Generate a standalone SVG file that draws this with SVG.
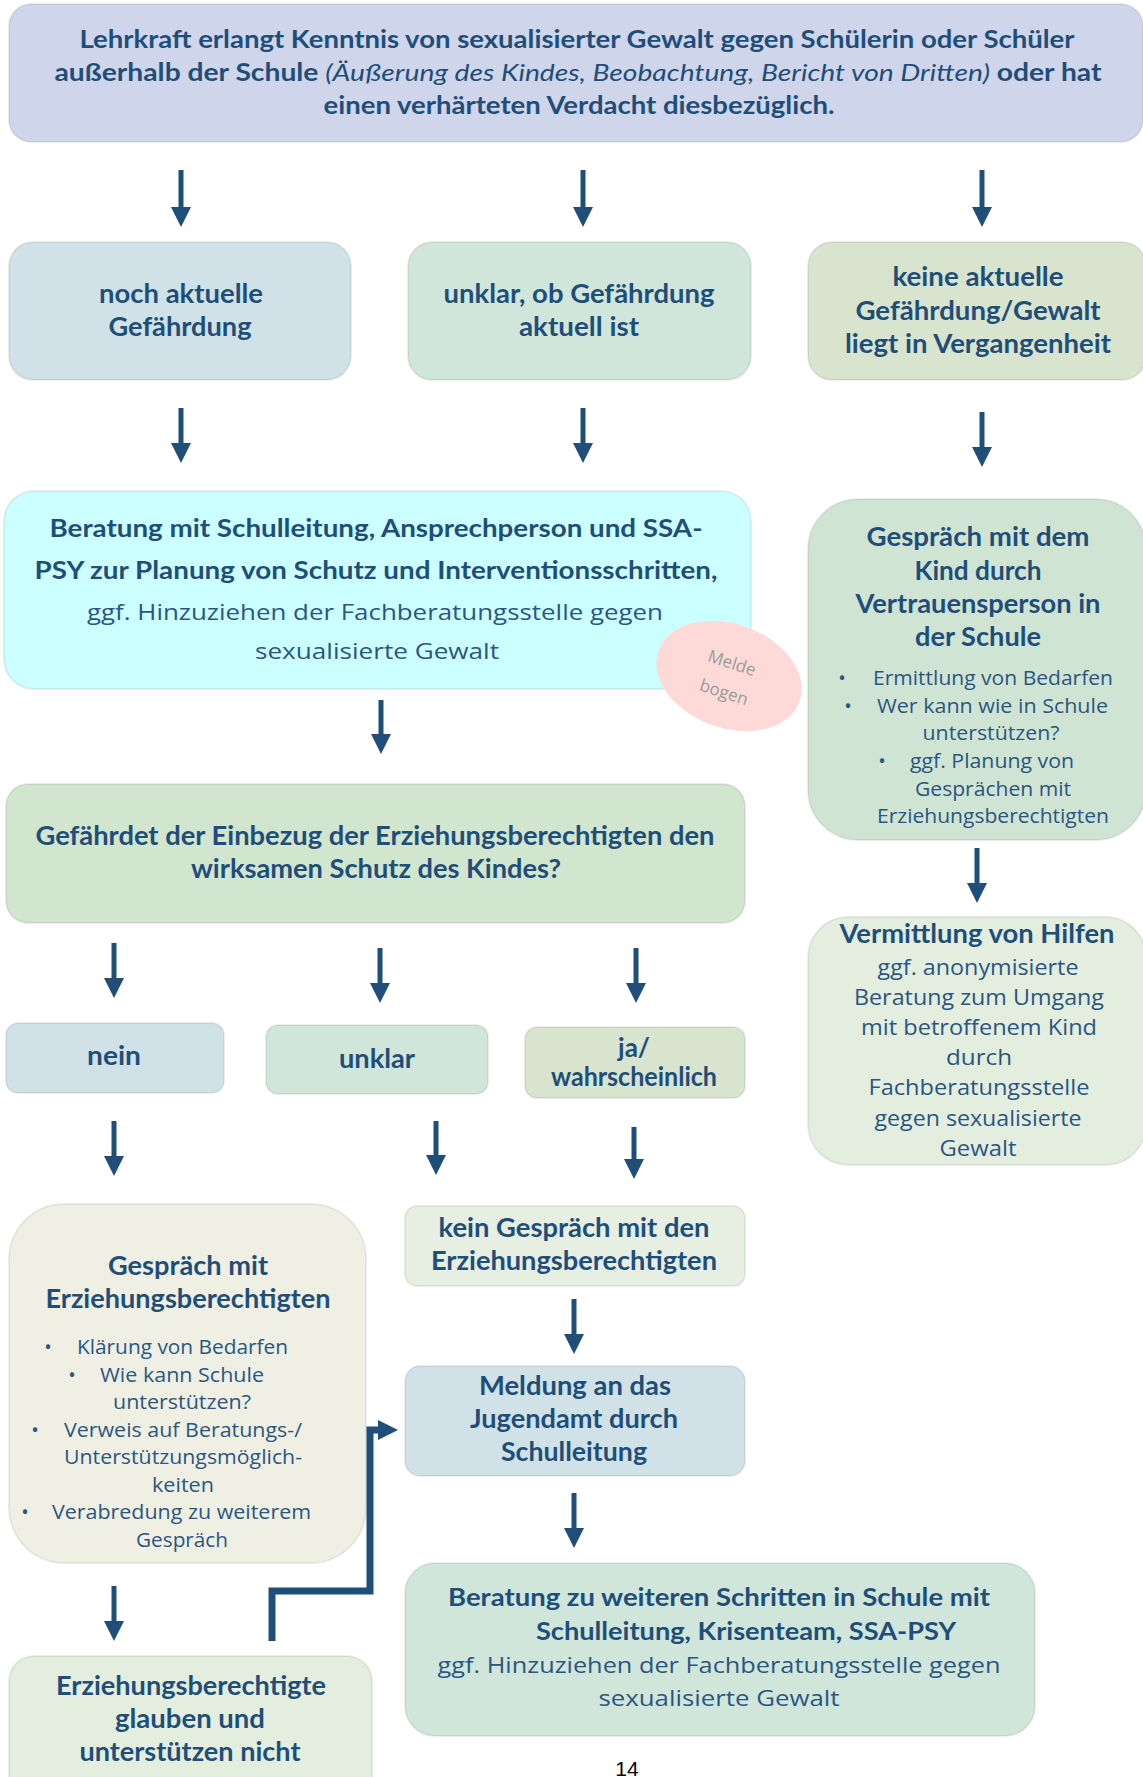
<svg xmlns="http://www.w3.org/2000/svg" width="1143" height="1777" viewBox="0 0 1143 1777">
<style>
.box{stroke:#000;stroke-opacity:0.07;stroke-width:2}
.b{font-family:Lato,"Liberation Sans",sans-serif;font-weight:700;fill:#1f4e79;text-anchor:middle}
.r{font-family:"Open Sans","Liberation Sans",sans-serif;font-weight:400;fill:#2b5681;text-anchor:middle}
.s{text-anchor:start}
.f26{font-size:26px}.f24{font-size:24px}.f22{font-size:22px}.f20{font-size:20px}
.cn{stroke:#1f4e79;stroke-width:5;fill:none}
</style>
<defs>
<marker id="ah" markerUnits="userSpaceOnUse" markerWidth="20" markerHeight="20" viewBox="0 -10 20 20" refX="0" refY="0" orient="auto"><path d="M0,-10 L20,0 L0,10 z" fill="#1f4e79"/></marker>
</defs>
<rect width="1143" height="1777" fill="#ffffff"/>

<g id="connectors">
<line class="cn" x1="181" y1="170" x2="181" y2="207" marker-end="url(#ah)"/>
<line class="cn" x1="583" y1="170" x2="583" y2="207" marker-end="url(#ah)"/>
<line class="cn" x1="982" y1="170" x2="982" y2="207" marker-end="url(#ah)"/>
<line class="cn" x1="181" y1="408" x2="181" y2="443" marker-end="url(#ah)"/>
<line class="cn" x1="583" y1="408" x2="583" y2="443" marker-end="url(#ah)"/>
<line class="cn" x1="982" y1="412" x2="982" y2="447" marker-end="url(#ah)"/>
<line class="cn" x1="381" y1="700" x2="381" y2="734" marker-end="url(#ah)"/>
<line class="cn" x1="977" y1="848" x2="977" y2="883" marker-end="url(#ah)"/>
<line class="cn" x1="114" y1="943" x2="114" y2="978" marker-end="url(#ah)"/>
<line class="cn" x1="380" y1="948" x2="380" y2="983" marker-end="url(#ah)"/>
<line class="cn" x1="636" y1="948" x2="636" y2="983" marker-end="url(#ah)"/>
<line class="cn" x1="114" y1="1121" x2="114" y2="1156" marker-end="url(#ah)"/>
<line class="cn" x1="436" y1="1121" x2="436" y2="1155" marker-end="url(#ah)"/>
<line class="cn" x1="634" y1="1127" x2="634" y2="1159" marker-end="url(#ah)"/>
<line class="cn" x1="574" y1="1299" x2="574" y2="1334" marker-end="url(#ah)"/>
<line class="cn" x1="574" y1="1493" x2="574" y2="1528" marker-end="url(#ah)"/>
<line class="cn" x1="114" y1="1586" x2="114" y2="1621" marker-end="url(#ah)"/>
<path class="cn" style="stroke-width:7" d="M272,1641 V1591 H370 V1430 H378" marker-end="url(#ah)"/>
</g>

<g id="n-top">
<rect class="box" x="9" y="4" width="1134" height="138" rx="22" fill="#cfd5ea"/>
<text class="b f24" x="577" y="48" textLength="995" lengthAdjust="spacingAndGlyphs">Lehrkraft erlangt Kenntnis von sexualisierter Gewalt gegen Schülerin  oder Schüler</text>
<text class="b f24" x="578" y="81" textLength="1047" lengthAdjust="spacingAndGlyphs">außerhalb der Schule <tspan font-style="italic" font-weight="400">(Äußerung des Kindes, Beobachtung, Bericht von Dritten)</tspan> oder hat</text>
<text class="b f24" x="579" y="114" textLength="511" lengthAdjust="spacingAndGlyphs">einen verhärteten Verdacht diesbezüglich.</text>
</g>

<g id="n-noch">
<rect class="box" x="9" y="242" width="342" height="138" rx="24" fill="#d0e2e8"/>
<text class="b f26" x="181" y="303" textLength="164" lengthAdjust="spacingAndGlyphs">noch aktuelle</text>
<text class="b f26" x="180" y="336" textLength="143" lengthAdjust="spacingAndGlyphs">Gefährdung</text>
</g>

<g id="n-unklar-ob">
<rect class="box" x="408" y="242" width="343" height="138" rx="24" fill="#d0e6da"/>
<text class="b f26" x="579" y="303" textLength="271" lengthAdjust="spacingAndGlyphs">unklar, ob Gefährdung</text>
<text class="b f26" x="579" y="336" textLength="120" lengthAdjust="spacingAndGlyphs">aktuell ist</text>
</g>

<g id="n-keine">
<rect class="box" x="808" y="242" width="338" height="138" rx="24" fill="#d8e4ce"/>
<text class="b f26" x="978" y="286" textLength="171" lengthAdjust="spacingAndGlyphs">keine aktuelle</text>
<text class="b f26" x="978" y="320" textLength="245" lengthAdjust="spacingAndGlyphs">Gefährdung/Gewalt</text>
<text class="b f26" x="978" y="353" textLength="266" lengthAdjust="spacingAndGlyphs">liegt in Vergangenheit</text>
</g>

<g id="n-beratung">
<rect class="box" x="4" y="491" width="747" height="198" rx="30" fill="#ccffff"/>
<text class="b f24" x="376" y="537" textLength="653" lengthAdjust="spacingAndGlyphs">Beratung mit Schulleitung, Ansprechperson und SSA-</text>
<text class="b f24" x="376" y="579" textLength="683" lengthAdjust="spacingAndGlyphs">PSY zur Planung von Schutz und Interventionsschritten,</text>
<text class="r f22" x="375" y="620" textLength="576" lengthAdjust="spacingAndGlyphs">ggf. Hinzuziehen der Fachberatungsstelle gegen</text>
<text class="r f22" x="377" y="659" textLength="244" lengthAdjust="spacingAndGlyphs">sexualisierte Gewalt</text>
</g>

<g id="n-meldebogen">
<ellipse cx="729" cy="676" rx="75" ry="52" transform="rotate(20 729 676)" fill="#fddad8"/>
<text class="r" style="font-size:17px;fill:#9b9b9b" x="732" y="669" transform="rotate(18 732 663)">Melde</text>
<text class="r" style="font-size:17px;fill:#9b9b9b" x="724" y="698" transform="rotate(18 724 692)">bogen</text>
</g>

<g id="n-kind">
<rect class="box" x="808" y="499" width="338" height="341" rx="50" fill="#d0e4d4"/>
<text class="b f26" x="978" y="546" textLength="223" lengthAdjust="spacingAndGlyphs">Gespräch mit dem</text>
<text class="b f26" x="978" y="580" textLength="127" lengthAdjust="spacingAndGlyphs">Kind durch</text>
<text class="b f26" x="978" y="613" textLength="245" lengthAdjust="spacingAndGlyphs">Vertrauensperson in</text>
<text class="b f26" x="978" y="646" textLength="126" lengthAdjust="spacingAndGlyphs">der Schule</text>
<text class="r f20" x="842" y="685">•</text>
<text class="r f20 s" x="873" y="685" textLength="240" lengthAdjust="spacingAndGlyphs">Ermittlung von Bedarfen</text>
<text class="r f20" x="848" y="713">•</text>
<text class="r f20 s" x="877" y="713" textLength="231" lengthAdjust="spacingAndGlyphs">Wer kann wie in Schule</text>
<text class="r f20" x="991" y="740" textLength="137" lengthAdjust="spacingAndGlyphs">unterstützen?</text>
<text class="r f20" x="882" y="768">•</text>
<text class="r f20 s" x="910" y="768" textLength="164" lengthAdjust="spacingAndGlyphs">ggf. Planung von</text>
<text class="r f20" x="993" y="796" textLength="156" lengthAdjust="spacingAndGlyphs">Gesprächen mit</text>
<text class="r f20" x="993" y="823" textLength="232" lengthAdjust="spacingAndGlyphs">Erziehungsberechtigten</text>
</g>

<g id="n-gefaehrdet">
<rect class="box" x="6" y="784" width="739" height="139" rx="22" fill="#d2e5cf"/>
<text class="b f26" x="375" y="845" textLength="679" lengthAdjust="spacingAndGlyphs">Gefährdet der Einbezug der Erziehungsberechtigten den</text>
<text class="b f26" x="376" y="878" textLength="370" lengthAdjust="spacingAndGlyphs">wirksamen Schutz des Kindes?</text>
</g>

<g id="n-vermittlung">
<rect class="box" x="808" y="917" width="338" height="248" rx="40" fill="#e3eedf"/>
<text class="b f26" x="977" y="943" textLength="275" lengthAdjust="spacingAndGlyphs">Vermittlung von Hilfen</text>
<text class="r f22" x="978" y="975" textLength="201" lengthAdjust="spacingAndGlyphs">ggf. anonymisierte</text>
<text class="r f22" x="979" y="1005" textLength="250" lengthAdjust="spacingAndGlyphs">Beratung zum Umgang</text>
<text class="r f22" x="979" y="1035" textLength="236" lengthAdjust="spacingAndGlyphs">mit betroffenem Kind</text>
<text class="r f22" x="979" y="1065" textLength="66" lengthAdjust="spacingAndGlyphs">durch</text>
<text class="r f22" x="979" y="1095" textLength="221" lengthAdjust="spacingAndGlyphs">Fachberatungsstelle</text>
<text class="r f22" x="978" y="1126" textLength="207" lengthAdjust="spacingAndGlyphs">gegen sexualisierte</text>
<text class="r f22" x="978" y="1156" textLength="77" lengthAdjust="spacingAndGlyphs">Gewalt</text>
</g>

<g id="n-nein">
<rect class="box" x="6" y="1023" width="218" height="70" rx="12" fill="#d0e2e8"/>
<text class="b f26" x="114" y="1065" textLength="54" lengthAdjust="spacingAndGlyphs">nein</text>
</g>

<g id="n-unklar">
<rect class="box" x="266" y="1025" width="222" height="69" rx="12" fill="#d0e6da"/>
<text class="b f26" x="377" y="1068" textLength="76" lengthAdjust="spacingAndGlyphs">unklar</text>
</g>

<g id="n-ja">
<rect class="box" x="525" y="1027" width="220" height="71" rx="12" fill="#d8e4ce"/>
<text class="b f26" x="634" y="1057">ja/</text>
<text class="b f26" x="634" y="1086" textLength="166" lengthAdjust="spacingAndGlyphs">wahrscheinlich</text>
</g>

<g id="n-gespraech-erz">
<rect class="box" x="9" y="1204" width="357" height="359" rx="55" fill="#eff0e3"/>
<text class="b f26" x="188" y="1275" textLength="160" lengthAdjust="spacingAndGlyphs">Gespräch mit</text>
<text class="b f26" x="188" y="1308" textLength="285" lengthAdjust="spacingAndGlyphs">Erziehungsberechtigten</text>
<text class="r f20" x="48" y="1354">•</text>
<text class="r f20 s" x="77" y="1354" textLength="211" lengthAdjust="spacingAndGlyphs">Klärung von Bedarfen</text>
<text class="r f20" x="72" y="1382">•</text>
<text class="r f20 s" x="100" y="1382" textLength="164" lengthAdjust="spacingAndGlyphs">Wie kann Schule</text>
<text class="r f20" x="182" y="1409" textLength="138" lengthAdjust="spacingAndGlyphs">unterstützen?</text>
<text class="r f20" x="35" y="1437">•</text>
<text class="r f20 s" x="64" y="1437" textLength="238" lengthAdjust="spacingAndGlyphs">Verweis auf Beratungs-/</text>
<text class="r f20" x="183" y="1464" textLength="238" lengthAdjust="spacingAndGlyphs">Unterstützungsmöglich-</text>
<text class="r f20" x="183" y="1492" textLength="62" lengthAdjust="spacingAndGlyphs">keiten</text>
<text class="r f20" x="25" y="1519">•</text>
<text class="r f20 s" x="52" y="1519" textLength="259" lengthAdjust="spacingAndGlyphs">Verabredung zu weiterem</text>
<text class="r f20" x="182" y="1547" textLength="92" lengthAdjust="spacingAndGlyphs">Gespräch</text>
</g>

<g id="n-kein-gespraech">
<rect class="box" x="405" y="1206" width="340" height="80" rx="12" fill="#e6efe2"/>
<text class="b f26" x="574" y="1237" textLength="271" lengthAdjust="spacingAndGlyphs">kein Gespräch mit den</text>
<text class="b f26" x="574" y="1270" textLength="286" lengthAdjust="spacingAndGlyphs">Erziehungsberechtigten</text>
</g>

<g id="n-meldung">
<rect class="box" x="405" y="1366" width="340" height="110" rx="15" fill="#d0e2e8"/>
<text class="b f26" x="575" y="1395" textLength="192" lengthAdjust="spacingAndGlyphs">Meldung an das</text>
<text class="b f26" x="574" y="1428" textLength="208" lengthAdjust="spacingAndGlyphs">Jugendamt durch</text>
<text class="b f26" x="574" y="1461" textLength="146" lengthAdjust="spacingAndGlyphs">Schulleitung</text>
</g>

<g id="n-beratung-weitere">
<rect class="box" x="405" y="1563" width="630" height="173" rx="30" fill="#d0e6da"/>
<text class="b f24" x="719" y="1606" textLength="542" lengthAdjust="spacingAndGlyphs">Beratung zu weiteren Schritten in Schule mit</text>
<text class="b f24" x="746" y="1640" textLength="420" lengthAdjust="spacingAndGlyphs">Schulleitung,  Krisenteam, SSA-PSY</text>
<text class="r f22" x="719" y="1673" textLength="563" lengthAdjust="spacingAndGlyphs">ggf. Hinzuziehen der Fachberatungsstelle gegen</text>
<text class="r f22" x="719" y="1706" textLength="241" lengthAdjust="spacingAndGlyphs">sexualisierte Gewalt</text>
</g>

<g id="n-erz-glauben">
<rect class="box" x="9" y="1656" width="363" height="150" rx="25" fill="#e3eedf"/>
<text class="b f26" x="191" y="1695" textLength="270" lengthAdjust="spacingAndGlyphs">Erziehungsberechtigte</text>
<text class="b f26" x="190" y="1728" textLength="150" lengthAdjust="spacingAndGlyphs">glauben und</text>
<text class="b f26" x="190" y="1761" textLength="221" lengthAdjust="spacingAndGlyphs">unterstützen nicht</text>
</g>

<text x="627" y="1776" font-family="Liberation Sans, sans-serif" font-size="21" text-anchor="middle" fill="#000">14</text>
</svg>
